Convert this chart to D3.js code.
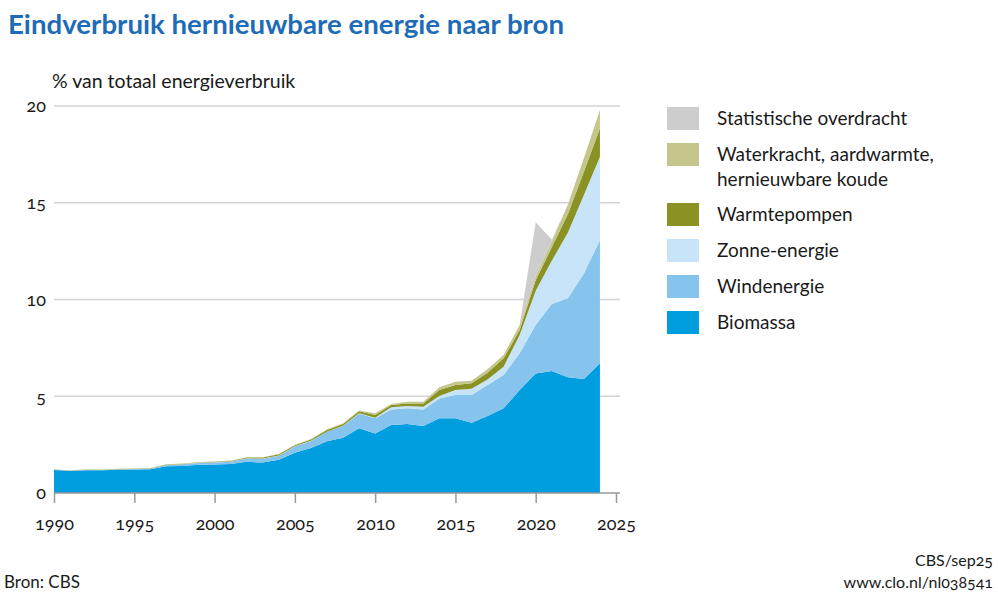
<html>
<head>
<style>
  body { margin: 0; background: #fff; }
  text { font-family: Lato, "Open Sans", sans-serif; fill: #1a1a1a; font-variant-numeric: oldstyle-nums; }
</style>
</head>
<body>
<svg id="chart" width="998" height="600"></svg>
<script src="https://cdn.jsdelivr.net/npm/d3@7"></script>
<script>
  // data, % of total final energy use
  let years = d3.range(1990, 2025)
  let biomassa = [1.19, 1.14, 1.18, 1.17, 1.20, 1.21, 1.23, 1.38, 1.40, 1.46, 1.47, 1.50, 1.61, 1.57, 1.72, 2.08, 2.33, 2.68, 2.86, 3.34,
                  3.08, 3.51, 3.57, 3.46, 3.86, 3.86, 3.63, 3.98, 4.38, 5.32, 6.18, 6.30, 5.98, 5.89, 6.70]
  let wind = [0.01, 0.01, 0.02, 0.02, 0.03, 0.03, 0.04, 0.06, 0.08, 0.09, 0.11, 0.12, 0.17, 0.20, 0.21, 0.32, 0.36, 0.48, 0.60, 0.76,
              0.78, 0.81, 0.81, 0.86, 1.03, 1.20, 1.43, 1.60, 1.72, 1.90, 2.52, 3.47, 4.08, 5.46, 6.37]
  let zon = [0, 0, 0, 0, 0, 0, 0, 0, 0, 0.01, 0.01, 0.01, 0.01, 0.01, 0.01, 0.01, 0.01, 0.01, 0.01, 0.02,
             0.03, 0.11, 0.12, 0.14, 0.12, 0.26, 0.33, 0.29, 0.43, 0.95, 1.75, 2.23, 3.39, 4.05, 4.31]
  let warmtepompen = [0.01, 0.01, 0.01, 0.01, 0.01, 0.01, 0.01, 0.02, 0.02, 0.02, 0.02, 0.03, 0.04, 0.05, 0.06, 0.06, 0.07, 0.09, 0.10, 0.11,
                      0.14, 0.12, 0.13, 0.17, 0.31, 0.26, 0.28, 0.35, 0.43, 0.25, 0.55, 0.70, 0.95, 1.20, 1.47]
  let waterkracht = [0.01, 0.01, 0.01, 0.01, 0.01, 0.01, 0.01, 0.02, 0.02, 0.02, 0.02, 0.02, 0.02, 0.02, 0.02, 0.02, 0.02, 0.03, 0.03, 0.04,
                     0.09, 0.05, 0.09, 0.09, 0.14, 0.17, 0.13, 0.17, 0.17, 0.26, 0.20, 0.30, 0.50, 0.70, 0.94]
  let overdracht = [0, 0, 0, 0, 0, 0, 0, 0, 0, 0, 0, 0, 0, 0, 0, 0, 0, 0, 0, 0,
                    0, 0, 0, 0, 0, 0, 0, 0, 0, 0, 2.79, 0.10, 0, 0, 0]

  let keys = ["biomassa", "wind", "zon", "warmtepompen", "waterkracht", "overdracht"]
  let labels = {
    overdracht: ["Statistische overdracht"],
    waterkracht: ["Waterkracht, aardwarmte,", "hernieuwbare koude"],
    warmtepompen: ["Warmtepompen"],
    zon: ["Zonne-energie"],
    wind: ["Windenergie"],
    biomassa: ["Biomassa"]
  }
  let colors = {
    biomassa: "#009ddf",
    wind: "#86c4ee",
    zon: "#c8e4f8",
    warmtepompen: "#8b9224",
    waterkracht: "#c4c68b",
    overdracht: "#cdcdcd"
  }
  let xTicks = [1990, 1995, 2000, 2005, 2010, 2015, 2020, 2025]
  let yTicks = [0, 5, 10, 15, 20]

  let rows = years.map((y, i) => ({
    year: y, biomassa: biomassa[i], wind: wind[i], zon: zon[i],
    warmtepompen: warmtepompen[i], waterkracht: waterkracht[i], overdracht: overdracht[i]
  }))

  let svg = d3.select("#chart")

  let x = d3.scaleLinear().domain([1990, 2025]).range([54, 616])
  let y = d3.scaleLinear().domain([0, 20]).range([493, 106])

  svg.append("text")
    .attr("x", 8).attr("y", 34)
    .attr("font-size", 27).attr("font-weight", "bold")
    .style("fill", "#1f6cb6")
    .attr("textLength", 556).attr("lengthAdjust", "spacingAndGlyphs")
    .text("Eindverbruik hernieuwbare energie naar bron")

  svg.append("text")
    .attr("x", 52).attr("y", 88)
    .attr("font-size", 19.5)
    .text("% van totaal energieverbruik")

  // grid lines
  svg.append("g").selectAll("line")
    .data(yTicks.filter(d => d > 0))
    .enter().append("line")
    .attr("x1", 54).attr("x2", 620)
    .attr("y1", d => y(d)).attr("y2", d => y(d))
    .attr("stroke", "#d3d3d3").attr("stroke-width", 1.5)

  let stack = d3.stack().keys(keys)
  let series = stack(rows)

  let area = d3.area()
    .x(d => x(d.data.year))
    .y0(d => y(d[0]))
    .y1(d => y(d[1]))

  svg.append("g").selectAll("path")
    .data(series)
    .enter().append("path")
    .attr("d", area)
    .attr("fill", d => colors[d.key])

  // x axis
  let xAxis = d3.axisBottom(x).tickValues(xTicks).tickFormat(d3.format("d")).tickSize(10).tickPadding(14)
  let gx = svg.append("g").attr("transform", "translate(0,493)").call(xAxis)
  gx.select(".domain").attr("d", "M54,0H620").attr("stroke", "#999").attr("stroke-width", 1.5)
  gx.selectAll(".tick line").attr("stroke", "#999").attr("stroke-width", 1.5)
  gx.selectAll(".tick text").attr("font-size", 18).attr("font-family", null).style("fill", "#1a1a1a")

  // y axis labels
  let yAxis = d3.axisLeft(y).tickValues(yTicks).tickSize(0).tickPadding(8)
  let gy = svg.append("g").attr("transform", "translate(54,0)").call(yAxis)
  gy.select(".domain").remove()
  gy.selectAll(".tick text").attr("font-size", 18).attr("font-family", null).style("fill", "#1a1a1a")

  // legend
  let legendY = { overdracht: 107, waterkracht: 143, warmtepompen: 203, zon: 239, wind: 275, biomassa: 311 }
  let legend = svg.append("g")
  let order = ["overdracht", "waterkracht", "warmtepompen", "zon", "wind", "biomassa"]
  for (let k of order) {
    legend.append("rect")
      .attr("x", 667).attr("y", legendY[k])
      .attr("width", 32).attr("height", 23)
      .attr("fill", colors[k])
    labels[k].forEach((t, i) => {
      legend.append("text")
        .attr("x", 717).attr("y", legendY[k] + 18 + i * 25)
        .attr("font-size", 19)
        .text(t)
    })
  }

  // footer
  svg.append("text").attr("x", 4).attr("y", 588).attr("font-size", 17).text("Bron: CBS")
  svg.append("text").attr("x", 993).attr("y", 566).attr("font-size", 16).attr("text-anchor", "end").text("CBS/sep25")
  svg.append("text").attr("x", 993).attr("y", 588).attr("font-size", 16).attr("text-anchor", "end").text("www.clo.nl/nl038541")
</script>
</body>
</html>
